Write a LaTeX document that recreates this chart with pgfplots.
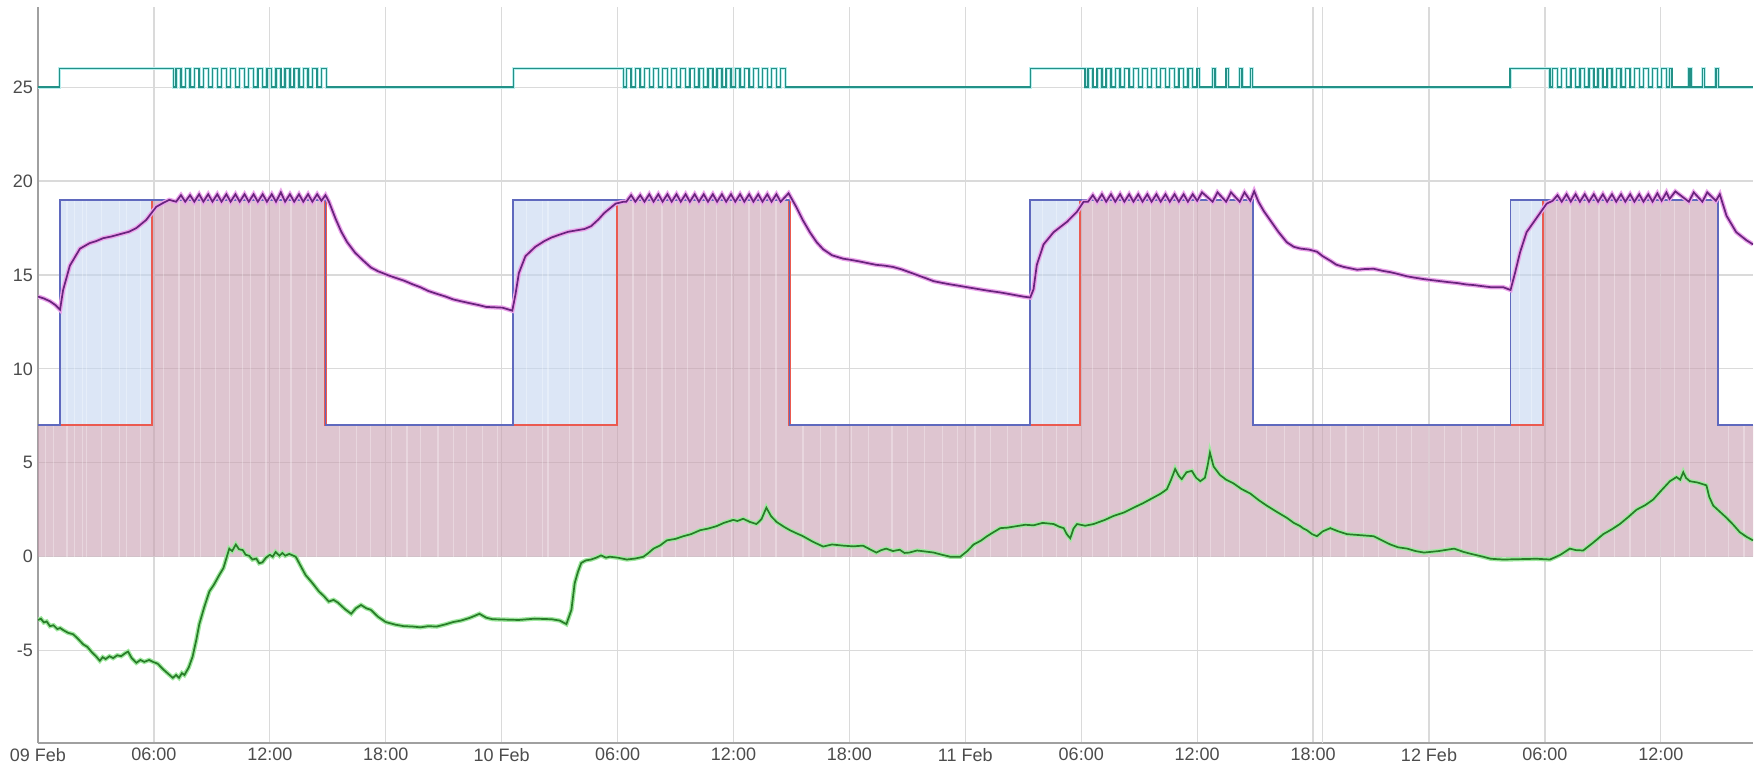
\documentclass[border=0pt]{standalone}
\usepackage{fontspec}
\setmainfont{Liberation Sans}
\usepackage{pgfplots}
\pgfplotsset{compat=1.18}
\definecolor{pinkfill}{RGB}{200,158,176}
\definecolor{bluefill}{RGB}{196,214,240}
\definecolor{tealc}{RGB}{35,145,135}
\definecolor{tealglow}{RGB}{185,238,238}
\definecolor{purplec}{RGB}{105,35,125}
\definecolor{purpleglow}{RGB}{235,165,235}
\definecolor{greenc}{RGB}{40,125,40}
\definecolor{greenglow}{RGB}{160,232,160}
\definecolor{setblue}{RGB}{95,105,190}
\definecolor{setred}{RGB}{235,90,80}
\definecolor{gridc}{RGB}{218,218,218}
\definecolor{axisc}{RGB}{160,160,160}
\begin{document}
\begin{tikzpicture}
\begin{axis}[
  at={(0pt,0pt)}, anchor=south west,
  scale only axis, width=857.5pt, height=368pt,
  xmin=0, xmax=88.77, ymin=-9.92, ymax=29.27,
  axis x line*=bottom, axis y line*=left,
  axis line style={draw=axisc, line width=0.6pt, -},
  xtick={0,6,...,84},
  xticklabels={09 Feb,06:00,12:00,18:00,10 Feb,06:00,12:00,18:00,11 Feb,06:00,12:00,18:00,12 Feb,06:00,12:00},
  ytick={-5,0,5,10,15,20,25},
  yticklabels={-5,0,5,10,15,20,25},
  extra x ticks={66.5}, extra x tick labels={},
  extra x tick style={grid=major, major grid style={draw=gridc, line width=0.6pt}},
  grid=major, major grid style={draw=gridc, line width=0.6pt},
  tick style={draw=none},
  tick label style={font=\fontsize{9}{10}\selectfont, text=black!70},
  yticklabel style={xshift=1pt},
  xticklabel style={yshift=1pt},
  clip=true,
]
% pink area (heating output)
\addplot[const plot, fill=pinkfill, fill opacity=0.6, draw=none] coordinates {
(0,7) (5.9,19) (14.88,7) (29.95,19) (38.9,7) (53.95,19) (62.9,7) (77.9,19) (86.97,7) (88.77,7)} \closedcycle;
% blue areas (setpoint raised, not yet heating)
\addplot[fill=bluefill, fill opacity=0.6, draw=none] coordinates {(1.12,7) (1.12,19) (5.9,19) (5.9,7)} -- cycle;
\addplot[fill=bluefill, fill opacity=0.6, draw=none] coordinates {(24.6,7) (24.6,19) (29.95,19) (29.95,7)} -- cycle;
\addplot[fill=bluefill, fill opacity=0.6, draw=none] coordinates {(51.36,7) (51.36,19) (53.95,19) (53.95,7)} -- cycle;
\addplot[fill=bluefill, fill opacity=0.6, draw=none] coordinates {(76.22,7) (76.22,19) (77.9,19) (77.9,7)} -- cycle;
% light gaps in the filled areas
\addplot[ycomb, draw=white, draw opacity=0.3, line width=0.6pt, mark=none] coordinates {
(0.4,7) (0.8,7) (1.5,19) (1.9,19) (2.3,19) (2.5,19) (3.3,19) (4.2,19) (4.6,19) (5.3,19)
(6.5,19) (7.3,19) (8.1,19) (8.4,19) (9.2,19) (9.9,19) (10.6,19) (11.0,19) (11.8,19) (12.5,19) (13.1,19) (13.9,19) (14.4,19)
(15.6,7) (16.5,7) (17.2,7) (18.3,7) (19.1,7) (19.8,7) (20.7,7) (21.5,7) (22.2,7) (23.0,7) (23.8,7)
(25.3,19) (26.1,19) (26.4,19) (27.5,19) (28.2,19) (29.2,19)
(30.8,19) (31.5,19) (32.3,19) (33.0,19) (33.6,19) (34.5,19) (35.1,19) (35.9,19) (36.8,19) (37.4,19) (38.2,19)
(39.6,7) (40.5,7) (41.3,7) (42.1,7) (43.0,7) (44.2,7) (45.0,7) (45.9,7) (46.8,7) (47.6,7) (48.5,7) (49.3,7) (50.2,7) (50.9,7)
(52.0,19) (52.7,19) (53.3,19)
(54.6,19) (55.4,19) (56.1,19) (56.9,19) (57.6,19) (58.3,19) (59.1,19) (59.8,19) (60.7,19) (61.4,19) (62.2,19)
(63.6,7) (64.5,7) (65.3,7) (66.9,7) (67.7,7) (68.6,7) (69.4,7) (70.3,7) (71.1,7) (72.0,7) (72.8,7) (73.7,7) (74.5,7) (75.4,7)
(76.7,19) (77.3,19)
(78.6,19) (79.3,19) (80.1,19) (80.8,19) (81.6,19) (82.4,19) (83.2,19) (84.0,19) (84.7,19) (85.5,19) (86.3,19)
(87.5,7) (88.3,7)};
% red step line
\addplot[const plot, draw=setred, line width=1.1pt] coordinates {
(0,7) (5.9,19) (14.88,7) (29.95,19) (38.9,7) (53.95,19) (62.9,7) (77.9,19) (86.97,7) (88.77,7)};
% blue setpoint
\addplot[const plot, draw=setblue, line width=0.9pt] coordinates {
(0,7) (1.12,19) (14.88,7) (24.6,19) (38.9,7) (51.36,19) (62.9,7) (76.22,19) (86.97,7) (88.77,7)};
% teal on/off
\pgfplotstableread{
x y
0 25
1.1 26
7.0 25
7.15 26
7.40 25
7.62 26
7.87 25
8.09 26
8.34 25
8.56 26
8.81 25
9.03 26
9.28 25
9.50 26
9.75 25
9.97 26
10.22 25
10.44 26
10.69 25
10.91 26
11.16 25
11.38 26
11.63 25
11.85 26
12.10 25
12.32 26
12.57 25
12.79 26
13.04 25
13.26 26
13.51 25
13.73 26
13.98 25
14.20 26
14.45 25
14.67 26
14.92 25
24.6 26
30.3 25
30.45 26
30.70 25
30.92 26
31.17 25
31.39 26
31.64 25
31.86 26
32.11 25
32.33 26
32.58 25
32.80 26
33.05 25
33.27 26
33.52 25
33.74 26
33.99 25
34.21 26
34.46 25
34.68 26
34.93 25
35.15 26
35.40 25
35.62 26
35.87 25
36.09 26
36.34 25
36.56 26
36.81 25
37.03 26
37.28 25
37.50 26
37.75 25
37.97 26
38.22 25
38.44 26
38.69 25
51.36 26
54.2 25
54.35 26
54.60 25
54.82 26
55.07 25
55.29 26
55.54 25
55.76 26
56.01 25
56.23 26
56.48 25
56.70 26
56.95 25
57.17 26
57.42 25
57.64 26
57.89 25
58.11 26
58.36 25
58.58 26
58.83 25
59.05 26
59.30 25
59.52 26
59.77 25
60.00 26
60.12 25
60.80 26
60.92 25
61.50 26
61.62 25
62.20 26
62.32 25
62.75 26
62.87 25
76.2 26
78.26 25
78.40 26
78.65 25
78.87 26
79.12 25
79.34 26
79.59 25
79.81 26
80.06 25
80.28 26
80.53 25
80.75 26
81.00 25
81.22 26
81.47 25
81.69 26
81.94 25
82.16 26
82.41 25
82.63 26
82.88 25
83.10 26
83.35 25
83.57 26
83.82 25
84.04 26
84.29 25
84.45 26
84.57 25
85.45 26
85.57 25
86.15 26
86.27 25
86.85 26
86.97 25
88.77 25
}\teal
\addplot[const plot, draw=tealglow, line width=1.6pt] table {\teal};
\addplot[const plot, draw=tealc, line width=0.7pt] table {\teal};
% indoor temperature (purple)
\pgfplotstableread{
x y
0 13.85
0.3 13.75
0.62 13.6
0.9 13.4
1.14 13.15
1.3 14.2
1.65 15.5
2.17 16.4
2.68 16.7
3.0 16.8
3.37 16.96
3.8 17.05
4.23 17.17
4.7 17.3
5.09 17.5
5.6 17.93
6.12 18.63
6.5 18.85
6.8 19.0
7.15 18.9
7.40 19.25
7.62 18.9
7.87 19.25
8.09 18.9
8.34 19.3
8.56 18.9
8.81 19.3
9.03 18.9
9.28 19.3
9.50 18.9
9.75 19.3
9.97 18.9
10.22 19.3
10.44 18.9
10.69 19.3
10.91 18.9
11.16 19.3
11.38 18.9
11.63 19.3
11.85 18.9
12.10 19.3
12.32 18.9
12.57 19.4
12.79 18.9
13.04 19.3
13.26 18.9
13.51 19.3
13.73 18.9
13.98 19.3
14.20 18.9
14.45 19.3
14.67 18.95
14.88 19.25
15.06 18.9
15.4 18.0
15.7 17.3
16.0 16.75
16.4 16.2
16.8 15.8
17.23 15.4
17.6 15.2
18.09 15.0
18.5 14.85
18.94 14.7
19.4 14.5
19.79 14.35
20.2 14.15
20.64 14.0
21.1 13.85
21.49 13.7
21.9 13.6
22.34 13.5
22.8 13.4
23.19 13.3
23.6 13.28
24.04 13.26
24.55 13.1
24.72 14.0
24.89 15.1
25.23 16.0
25.74 16.5
26.2 16.8
26.59 17.0
27.0 17.15
27.44 17.3
28.29 17.45
28.63 17.6
29.0 17.95
29.31 18.3
29.9 18.8
30.3 18.9
30.45 18.9
30.70 19.25
30.92 18.9
31.17 19.25
31.39 18.9
31.64 19.3
31.86 18.9
32.11 19.3
32.33 18.9
32.58 19.3
32.80 18.9
33.05 19.3
33.27 18.9
33.52 19.3
33.74 18.9
33.99 19.3
34.21 18.9
34.46 19.3
34.68 18.9
34.93 19.3
35.15 18.9
35.40 19.3
35.62 18.9
35.87 19.3
36.09 18.9
36.34 19.3
36.56 18.9
36.81 19.3
37.03 18.9
37.28 19.3
37.50 18.9
37.75 19.3
37.97 18.9
38.22 19.3
38.44 18.9
38.85 19.35
39.26 18.6
39.6 17.9
39.95 17.28
40.3 16.75
40.64 16.37
41.1 16.05
41.67 15.87
42.1 15.8
42.53 15.72
43.0 15.62
43.39 15.54
43.8 15.5
44.25 15.43
44.7 15.3
45.1 15.15
45.5 15.0
45.9 14.85
46.36 14.67
46.8 14.58
47.22 14.5
47.7 14.42
48.09 14.35
48.5 14.28
48.95 14.2
49.4 14.13
49.81 14.07
50.2 14.0
50.67 13.91
51.0 13.85
51.36 13.8
51.53 14.24
51.7 15.54
52.05 16.63
52.57 17.28
53.26 17.83
53.78 18.37
54.12 18.9
54.35 18.9
54.60 19.25
54.82 18.9
55.07 19.3
55.29 18.9
55.54 19.3
55.76 18.9
56.01 19.3
56.23 18.9
56.48 19.3
56.70 18.9
56.95 19.3
57.17 18.9
57.42 19.3
57.64 18.9
57.89 19.3
58.11 18.9
58.36 19.3
58.58 18.9
58.83 19.3
59.05 18.9
59.30 19.3
59.52 18.9
59.77 19.3
60.00 18.95
60.25 19.4
60.80 18.9
61.05 19.4
61.50 18.9
61.75 19.4
62.20 18.9
62.45 19.4
62.75 18.95
62.95 19.46
63.17 18.9
63.45 18.4
63.77 17.93
64.2 17.3
64.64 16.74
65.0 16.5
65.33 16.41
65.8 16.35
66.2 16.24
66.5 16.0
66.89 15.76
67.2 15.55
67.58 15.43
68.28 15.28
68.7 15.32
69.14 15.33
69.6 15.22
70.0 15.15
70.4 15.05
70.87 14.93
71.3 14.85
71.74 14.78
72.2 14.72
72.6 14.67
73.0 14.62
73.47 14.57
73.9 14.5
74.34 14.46
74.8 14.4
75.2 14.35
75.84 14.35
76.22 14.2
76.45 15.1
76.71 16.2
77.05 17.28
77.57 18.04
78.09 18.8
78.40 18.95
78.65 19.25
78.87 18.9
79.12 19.3
79.34 18.9
79.59 19.3
79.81 18.9
80.06 19.3
80.28 18.9
80.53 19.3
80.75 18.9
81.00 19.3
81.22 18.9
81.47 19.3
81.69 18.9
81.94 19.3
82.16 18.9
82.41 19.3
82.63 18.9
82.88 19.3
83.10 18.9
83.35 19.3
83.57 18.9
83.82 19.35
84.04 18.95
84.29 19.4
84.45 19.05
84.75 19.45
85.45 18.9
85.7 19.4
86.15 18.9
86.4 19.4
86.85 18.95
87.05 19.3
87.4 18.15
87.9 17.28
88.43 16.85
88.77 16.63
}\indoor
\addplot[draw=purpleglow, line width=2.2pt] table {\indoor};
\addplot[draw=purplec, line width=0.85pt] table {\indoor};
% outdoor temperature (green)
\pgfplotstableread{
x y
0 -3.37
0.15 -3.3
0.3 -3.5
0.45 -3.45
0.62 -3.7
0.8 -3.65
1.0 -3.85
1.15 -3.8
1.31 -3.91
1.55 -4.05
1.82 -4.13
2.05 -4.35
2.34 -4.67
2.55 -4.8
2.8 -5.1
3.0 -5.3
3.2 -5.54
3.35 -5.35
3.5 -5.45
3.7 -5.3
3.89 -5.4
4.1 -5.25
4.3 -5.3
4.5 -5.15
4.66 -5.05
4.85 -5.4
5.09 -5.65
5.3 -5.5
5.5 -5.6
5.75 -5.5
5.95 -5.6
6.2 -5.7
6.46 -5.98
6.7 -6.2
6.98 -6.45
7.15 -6.3
7.3 -6.45
7.45 -6.2
7.58 -6.3
7.8 -5.9
8.0 -5.33
8.2 -4.4
8.35 -3.59
8.6 -2.7
8.87 -1.85
9.1 -1.5
9.38 -0.98
9.6 -0.6
9.9 0.43
10.05 0.3
10.24 0.65
10.4 0.4
10.6 0.35
10.75 0.1
10.93 0.05
11.1 -0.15
11.3 -0.1
11.45 -0.35
11.62 -0.3
11.8 -0.05
12.0 0.1
12.15 0.0
12.3 0.25
12.5 0.05
12.65 0.2
12.8 0.05
13.0 0.15
13.34 0
13.6 -0.5
13.85 -0.98
14.2 -1.4
14.54 -1.85
14.8 -2.1
15.05 -2.39
15.3 -2.3
15.53 -2.45
15.9 -2.8
16.21 -3.04
16.45 -2.75
16.72 -2.57
17.0 -2.75
17.23 -2.83
17.6 -3.2
18.0 -3.48
18.5 -3.62
18.94 -3.7
19.4 -3.72
19.79 -3.76
20.2 -3.7
20.64 -3.72
21.1 -3.6
21.49 -3.48
21.9 -3.4
22.34 -3.26
22.6 -3.15
22.85 -3.04
23.2 -3.25
23.53 -3.33
24.2 -3.35
24.89 -3.37
25.7 -3.3
26.59 -3.33
27.0 -3.4
27.35 -3.59
27.61 -2.83
27.78 -1.41
27.95 -0.8
28.12 -0.33
28.35 -0.2
28.63 -0.15
28.9 -0.05
29.14 0.07
29.4 -0.05
29.6 0
30.0 -0.05
30.48 -0.15
30.9 -0.1
31.34 0
31.6 0.2
31.86 0.43
32.2 0.6
32.55 0.87
33.0 0.95
33.4 1.09
33.8 1.2
34.27 1.41
34.7 1.5
35.13 1.63
35.5 1.8
35.99 1.96
36.2 1.9
36.5 2.02
36.85 1.85
37.19 1.74
37.45 2.0
37.7 2.61
37.95 2.15
38.23 1.85
38.6 1.6
38.92 1.41
39.25 1.25
39.6 1.09
40.1 0.8
40.64 0.54
41.1 0.65
41.67 0.59
42.2 0.55
42.7 0.59
43.05 0.4
43.39 0.22
43.65 0.35
43.9 0.43
44.25 0.3
44.6 0.37
44.85 0.2
45.1 0.22
45.5 0.33
45.9 0.28
46.36 0.22
46.8 0.1
47.22 0
47.74 0
48.1 0.3
48.43 0.65
48.8 0.85
49.12 1.09
49.45 1.3
49.81 1.52
50.2 1.55
50.67 1.63
51.1 1.7
51.53 1.67
52.0 1.8
52.57 1.74
52.85 1.6
53.09 1.52
53.25 1.2
53.43 0.98
53.6 1.5
53.78 1.74
54.2 1.65
54.64 1.74
55.2 1.95
55.67 2.17
56.2 2.35
56.71 2.61
57.2 2.85
57.74 3.15
58.1 3.35
58.43 3.59
58.65 4.1
58.86 4.67
59.05 4.3
59.2 4.13
59.45 4.5
59.72 4.57
59.95 4.2
60.16 4.02
60.4 4.2
60.55 4.9
60.66 5.54
60.85 4.8
61.18 4.35
61.5 4.1
61.87 3.91
62.3 3.6
62.74 3.37
63.2 3.0
63.6 2.72
64.1 2.4
64.64 2.07
65.0 1.8
65.33 1.63
65.5 1.5
65.68 1.41
65.95 1.2
66.2 1.09
66.5 1.35
66.89 1.52
67.3 1.35
67.76 1.2
68.4 1.15
69.14 1.09
69.6 0.85
70.0 0.65
70.4 0.5
70.87 0.43
71.3 0.3
71.74 0.22
72.5 0.3
73.3 0.43
73.8 0.25
74.34 0.11
74.8 0.0
75.2 -0.11
75.84 -0.15
76.7 -0.13
77.57 -0.11
78.26 -0.15
78.8 0.1
79.29 0.43
79.6 0.35
79.98 0.33
80.5 0.75
81.02 1.2
81.45 1.45
81.88 1.74
82.3 2.1
82.74 2.5
83.2 2.75
83.6 3.04
84.0 3.5
84.47 4.02
84.81 4.24
85.0 4.1
85.16 4.5
85.3 4.2
85.5 4.02
85.9 3.95
86.36 3.8
86.5 3.2
86.71 2.72
87.05 2.4
87.4 2.07
87.75 1.7
88.09 1.3
88.45 1.05
88.77 0.87
}\outdoor
\addplot[draw=greenglow, line width=2.2pt] table {\outdoor};
\addplot[draw=greenc, line width=0.85pt] table {\outdoor};
\end{axis}
\pgfresetboundingbox
\path (-19pt,-11.5pt) rectangle (862pt,383pt-11.5pt);
\end{tikzpicture}
\end{document}
